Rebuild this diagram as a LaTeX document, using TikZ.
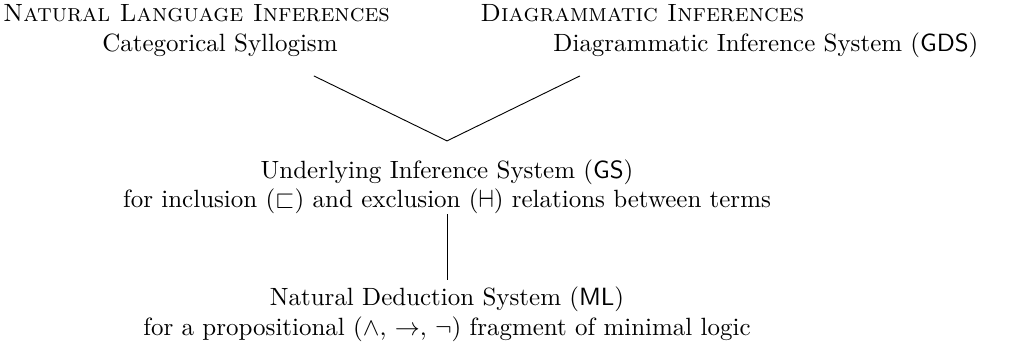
\documentclass[11pt,tikz,border=0pt]{standalone}
\usepackage{amssymb}
\newcommand{\excl}{\mathrel{\vdash\mkern-11mu\dashv}}
\begin{document}
\begin{tikzpicture}[every node/.style={anchor=base, inner sep=0pt}]
\useasboundingbox (0pt, 0pt) rectangle (447pt, -153.5pt);
\node (nli) at (86.2pt, -9.6pt) {\textsc{Natural Language Inferences}};
\node (syl) at (96.5pt, -22.8pt) {Categorical Syllogism};
\node (dia) at (281.8pt, -9.6pt) {\textsc{Diagrammatic Inferences}};
\node (gds) at (336.0pt, -22.8pt) {Diagrammatic Inference System (\textsf{GDS})};
\node (gs) at (196.1pt, -78.3pt) {Underlying Inference System (\textsf{GS})};
\node (gsrel) at (196.1pt, -91.2pt) {for inclusion ($\sqsubset$) and exclusion ($\excl$) relations between terms};
\node (ml) at (196.1pt, -134.2pt) {Natural Deduction System (\textsf{ML})};
\node (mlfrag) at (196.1pt, -147.0pt) {for a propositional ($\wedge$, $\rightarrow$, $\neg$) fragment of minimal logic};
\coordinate (sylend) at (137.7pt, -33.3pt);
\coordinate (gdsend) at (254.4pt, -33.3pt);
\coordinate (gstop) at (196.1pt, -61.8pt);
\coordinate (gsbot) at (196.1pt, -93.9pt);
\coordinate (mltop) at (196.1pt, -122.8pt);
\draw (sylend) -- (gstop);
\draw (gdsend) -- (gstop);
\draw (gsbot) -- (mltop);
\end{tikzpicture}
\end{document}
